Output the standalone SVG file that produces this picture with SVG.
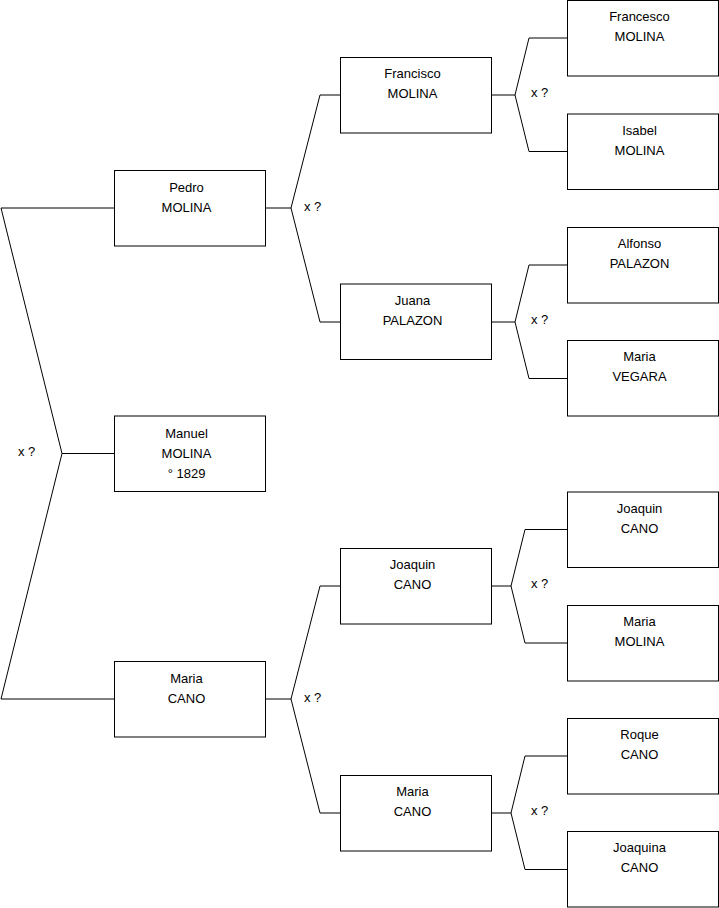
<svg xmlns="http://www.w3.org/2000/svg" width="719" height="908" viewBox="0 0 719 908">
<style>
.box{fill:#fff;stroke:#000;stroke-width:1}
.t{font-family:"Liberation Sans",Arial,sans-serif;font-size:13px;fill:#000;text-anchor:middle}
.l{font-family:"Liberation Sans",Arial,sans-serif;font-size:13px;fill:#000}
.c{fill:none;stroke:#000;stroke-width:1}
</style>
<rect width="719" height="908" fill="#fff"/>
<g id="connectors">
<path class="c" d="M114.5 208 H1 L62 453.5 L1 699 H114.5 M62 453.5 H114.5"/>
<path class="c" d="M340.5 95 H320 L291 208 L320 322 H340.5 M265.5 208 H291"/>
<path class="c" d="M340.5 586 H320 L291 699 L320 813 H340.5 M265.5 699 H291"/>
<path class="c" d="M567.5 38 H529 L515 95 L529 151.5 H567.5 M491.5 95 H515"/>
<path class="c" d="M567.5 265 H529 L515 322 L529 378.5 H567.5 M491.5 322 H515"/>
<path class="c" d="M567.5 529.5 H525 L511 586 L525 643 H567.5 M491.5 586 H511"/>
<path class="c" d="M567.5 756 H525 L511 813 L525 869.5 H567.5 M491.5 813 H511"/>
<text class="l" x="18" y="456">x ?</text>
<text class="l" x="304" y="211">x ?</text>
<text class="l" x="304" y="702">x ?</text>
<text class="l" x="531" y="97">x ?</text>
<text class="l" x="531" y="324">x ?</text>
<text class="l" x="531" y="588">x ?</text>
<text class="l" x="531" y="815">x ?</text>
</g>
<g id="pedro"><rect class="box" x="114.5" y="170.5" width="151" height="75.5"/><text class="t" x="186.5" y="191.5">Pedro</text><text class="t" x="186.5" y="211.5">MOLINA</text></g>
<g id="manuel"><rect class="box" x="114.5" y="416" width="151" height="75.5"/><text class="t" x="186.5" y="437.5">Manuel</text><text class="t" x="186.5" y="457.5">MOLINA</text><text class="t" x="186.5" y="477.5">° 1829</text></g>
<g id="maria-cano-1"><rect class="box" x="114.5" y="661.5" width="151" height="75.5"/><text class="t" x="186.5" y="682.5">Maria</text><text class="t" x="186.5" y="702.5">CANO</text></g>
<g id="francisco"><rect class="box" x="340.5" y="57.5" width="151" height="75.5"/><text class="t" x="412.5" y="78">Francisco</text><text class="t" x="412.5" y="98">MOLINA</text></g>
<g id="juana"><rect class="box" x="340.5" y="284" width="151" height="75.5"/><text class="t" x="412.5" y="305">Juana</text><text class="t" x="412.5" y="325">PALAZON</text></g>
<g id="joaquin-cano-1"><rect class="box" x="340.5" y="548.5" width="151" height="75.5"/><text class="t" x="412.5" y="569">Joaquin</text><text class="t" x="412.5" y="589">CANO</text></g>
<g id="maria-cano-2"><rect class="box" x="340.5" y="775.5" width="151" height="75.5"/><text class="t" x="412.5" y="796">Maria</text><text class="t" x="412.5" y="816">CANO</text></g>
<g id="francesco"><rect class="box" x="567.5" y="0.5" width="151" height="75.5"/><text class="t" x="639.5" y="21">Francesco</text><text class="t" x="639.5" y="41">MOLINA</text></g>
<g id="isabel"><rect class="box" x="567.5" y="114" width="151" height="75.5"/><text class="t" x="639.5" y="134.5">Isabel</text><text class="t" x="639.5" y="154.5">MOLINA</text></g>
<g id="alfonso"><rect class="box" x="567.5" y="227.5" width="151" height="75.5"/><text class="t" x="639.5" y="248">Alfonso</text><text class="t" x="639.5" y="268">PALAZON</text></g>
<g id="maria-vegara"><rect class="box" x="567.5" y="340.5" width="151" height="75.5"/><text class="t" x="639.5" y="361">Maria</text><text class="t" x="639.5" y="381">VEGARA</text></g>
<g id="joaquin-cano-2"><rect class="box" x="567.5" y="492" width="151" height="75.5"/><text class="t" x="639.5" y="512.5">Joaquin</text><text class="t" x="639.5" y="532.5">CANO</text></g>
<g id="maria-molina"><rect class="box" x="567.5" y="605.5" width="151" height="75.5"/><text class="t" x="639.5" y="626">Maria</text><text class="t" x="639.5" y="646">MOLINA</text></g>
<g id="roque"><rect class="box" x="567.5" y="718.5" width="151" height="75.5"/><text class="t" x="639.5" y="739">Roque</text><text class="t" x="639.5" y="759">CANO</text></g>
<g id="joaquina"><rect class="box" x="567.5" y="831.5" width="151" height="75.5"/><text class="t" x="639.5" y="852">Joaquina</text><text class="t" x="639.5" y="872">CANO</text></g>
</svg>
